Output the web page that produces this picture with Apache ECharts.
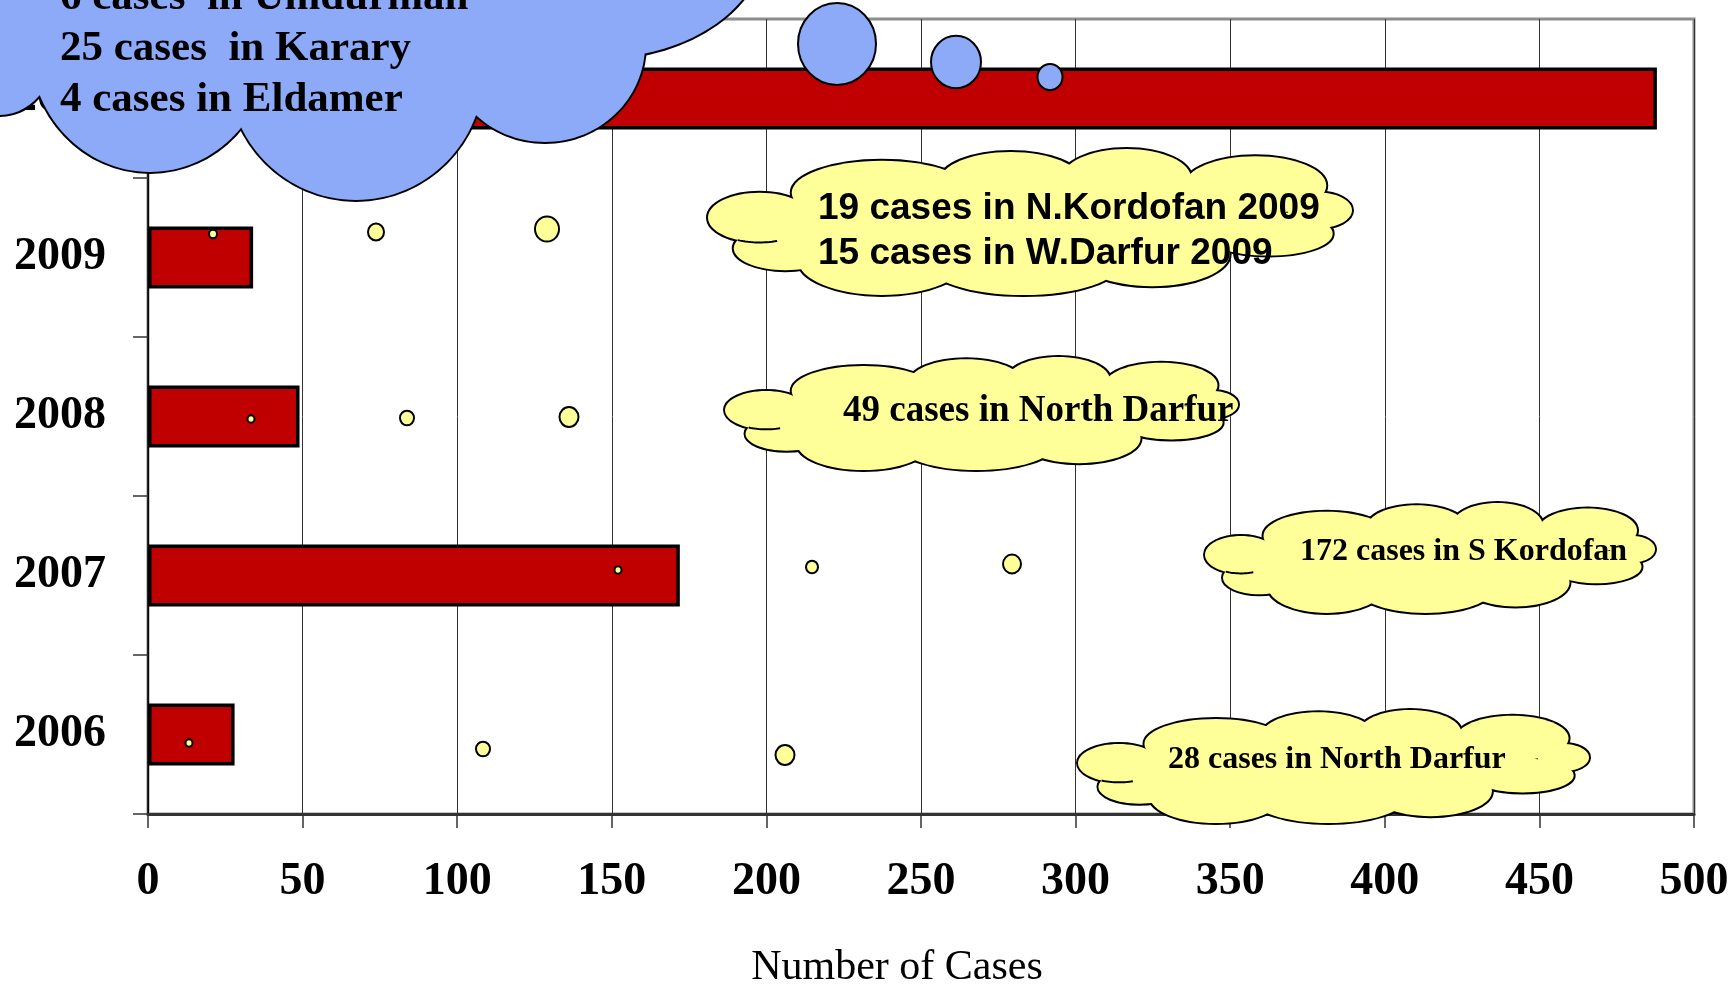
<!DOCTYPE html>
<html>
<head>
<meta charset="utf-8">
<title>Number of Cases by year</title>
<script src="https://cdn.jsdelivr.net/npm/echarts@6/dist/echarts.min.js"></script>
<style>
  html, body { margin: 0; padding: 0; background: #fff; }
  #chart { width: 1733px; height: 987px; }
</style>
</head>
<body>
<div id="chart"></div>
<script>
// data
const years = ["2006", "2007", "2008", "2009", "2010"];
const cases = [28, 172, 49, 34, 488];
const axisMin = 0;
const axisMax = 500;
const axisStep = 50;

// callout texts
const note2010 = ["6 cases  in Umdurman", "25 cases  in Karary", "4 cases in Eldamer"];
const note2009 = ["19 cases in N.Kordofan 2009", "15 cases in W.Darfur 2009"];
const note2008 = ["49 cases in North Darfur"];
const note2007 = ["172 cases in S Kordofan"];
const note2006 = ["28 cases in North Darfur"];

const SERIF = "'Liberation Serif', 'Times New Roman', serif";
const SANS = "'Liberation Sans', Arial, sans-serif";
const YELLOW = "#FFFF99";
const BLUE = "#8DAAF8";

// lobes of a cloud shape, in a unit box: cx, cy, rx, ry
const cloudLobes = [
  [0.08, 0.47, 0.08, 0.17],
  [0.12, 0.68, 0.08, 0.15],
  [0.27, 0.76, 0.13, 0.24],
  [0.49, 0.78, 0.15, 0.22],
  [0.69, 0.72, 0.12, 0.22],
  [0.87, 0.58, 0.10, 0.15],
  [0.95, 0.42, 0.05, 0.12],
  [0.85, 0.25, 0.11, 0.20],
  [0.65, 0.20, 0.10, 0.20],
  [0.47, 0.22, 0.11, 0.20],
  [0.27, 0.30, 0.14, 0.22],
  [0.50, 0.50, 0.40, 0.30]
];
// little inner arcs of the cloud: lobe index, from angle, to angle (deg)
const cloudArcs = [
  [0, 70, 115]
];

function arcPoints(s, a0, a1) {
  const pts = [];
  for (let a = a0; a <= a1; a += 3) {
    const t = a * Math.PI / 180;
    pts.push([s.cx + s.rx * Math.cos(t), s.cy + s.ry * Math.sin(t)]);
  }
  return pts;
}

function cloudFromShapes(shapes, fill, arcs) {
  const out = shapes.map(s => ({
    type: "ellipse", z: 100, silent: true,
    shape: s, style: { fill: fill, stroke: "#000", lineWidth: 4 }
  }));
  const cover = shapes.map(s => ({
    type: "ellipse", z: 100, silent: true,
    shape: s, style: { fill: fill }
  }));
  const inner = (arcs || []).map(([i, a0, a1]) => ({
    type: "polyline", z: 100, silent: true,
    shape: { points: arcPoints(shapes[i], a0, a1) },
    style: { fill: null, stroke: "#000", lineWidth: 2 }
  }));
  return out.concat(cover, inner);
}

function cloud(x0, y0, w, h, fill) {
  return cloudFromShapes(cloudLobes.map(([u, v, ru, rv]) => ({
    cx: x0 + u * w, cy: y0 + v * h, rx: ru * w, ry: rv * h
  })), fill, cloudArcs);
}

function bubble(cx, cy, r, fill) {
  return {
    type: "ellipse", z: 100, silent: true,
    shape: { cx: cx, cy: cy, rx: r, ry: r * 1.05 },
    style: { fill: fill, stroke: "#000", lineWidth: 2 }
  };
}

function lines(texts, x, y, gap, font) {
  return texts.map((t, i) => ({
    type: "text", z: 101, silent: true,
    style: {
      text: t, x: x, y: y + i * gap, font: font, fill: "#000",
      textAlign: "left", textVerticalAlign: "middle"
    }
  }));
}

// big blue cloud at the top left (mostly outside the picture)
const blueShapes = [
  { cx: 600, cy: -60, rx: 165, ry: 118 },
  { cx: 545, cy: 45, rx: 100, ry: 97 },
  { cx: 356, cy: 70, rx: 128, ry: 130 },
  { cx: 150, cy: 45, rx: 120, ry: 127 },
  { cx: 0, cy: 30, rx: 62, ry: 85 },
  { cx: 330, cy: -60, rx: 330, ry: 170 }
];

const elements = [].concat(
  cloudFromShapes(blueShapes, BLUE, []),
  lines(note2010, 60, -2, 51, "bold 43px " + SERIF),
  [bubble(837, 44, 39, BLUE), bubble(956, 62, 25, BLUE), bubble(1050, 77, 12.5, BLUE)],

  [bubble(213, 234, 4, YELLOW), bubble(376, 232, 8, YELLOW), bubble(547, 229, 12, YELLOW)],
  cloud(708, 149, 644, 146, YELLOW),
  lines(note2009, 818, 209, 45, "bold 37px " + SANS),

  [bubble(251, 419, 3.5, YELLOW), bubble(407, 418, 7, YELLOW), bubble(569, 417, 9.5, YELLOW)],
  cloud(725, 357, 513, 113, YELLOW),
  lines(note2008, 843, 411, 0, "bold 37px " + SERIF),

  [bubble(618, 570, 3.5, YELLOW), bubble(812, 567, 6, YELLOW), bubble(1012, 564, 9, YELLOW)],
  cloud(1205, 503, 450, 110, YELLOW),
  lines(note2007, 1300, 552, 0, "bold 32px " + SERIF),

  [bubble(189, 743, 3.5, YELLOW), bubble(483, 749, 7, YELLOW), bubble(785, 755, 9.5, YELLOW)],
  cloud(1078, 710, 511, 113, YELLOW),
  lines(note2006, 1168, 760, 0, "bold 32px " + SERIF)
);

const chart = echarts.init(document.getElementById("chart"));

chart.setOption({
  animation: false,
  backgroundColor: "#fff",
  grid: {
    left: 148,
    right: 39,
    top: 19,
    bottom: 173,
    outerBoundsMode: "none",
    containLabel: false,
    show: true,
    borderColor: "#8c8c8c",
    borderWidth: 3
  },
  xAxis: {
    type: "value",
    min: axisMin,
    max: axisMax,
    interval: axisStep,
    name: "Number of Cases",
    nameLocation: "middle",
    nameGap: 133,
    nameTextStyle: {
      fontFamily: SERIF,
      fontSize: 42,
      color: "#000",
      padding: [0, 48, 0, 0]
    },
    axisLine: { show: true, lineStyle: { color: "#333", width: 3 } },
    axisTick: { show: true, length: 14, lineStyle: { color: "#333", width: 1.5 } },
    axisLabel: {
      margin: 45,
      fontFamily: SERIF,
      fontWeight: "bold",
      fontSize: 46,
      color: "#000"
    },
    splitLine: { show: true, lineStyle: { color: "#333", width: 1 } }
  },
  yAxis: {
    type: "category",
    data: years,
    axisLine: { show: true, lineStyle: { color: "#000", width: 1.5 } },
    axisTick: { show: true, length: 15, lineStyle: { color: "#333", width: 1.5 } },
    axisLabel: {
      margin: 42,
      fontFamily: SERIF,
      fontWeight: "bold",
      fontSize: 46,
      color: "#000"
    },
    splitLine: { show: false }
  },
  series: [
    {
      type: "bar",
      data: cases,
      barCategoryGap: "61%",
      itemStyle: {
        color: "#C00000",
        borderColor: "#000",
        borderWidth: 3.5
      }
    }
  ],
  graphic: { elements: elements }
});
</script>
</body>
</html>
